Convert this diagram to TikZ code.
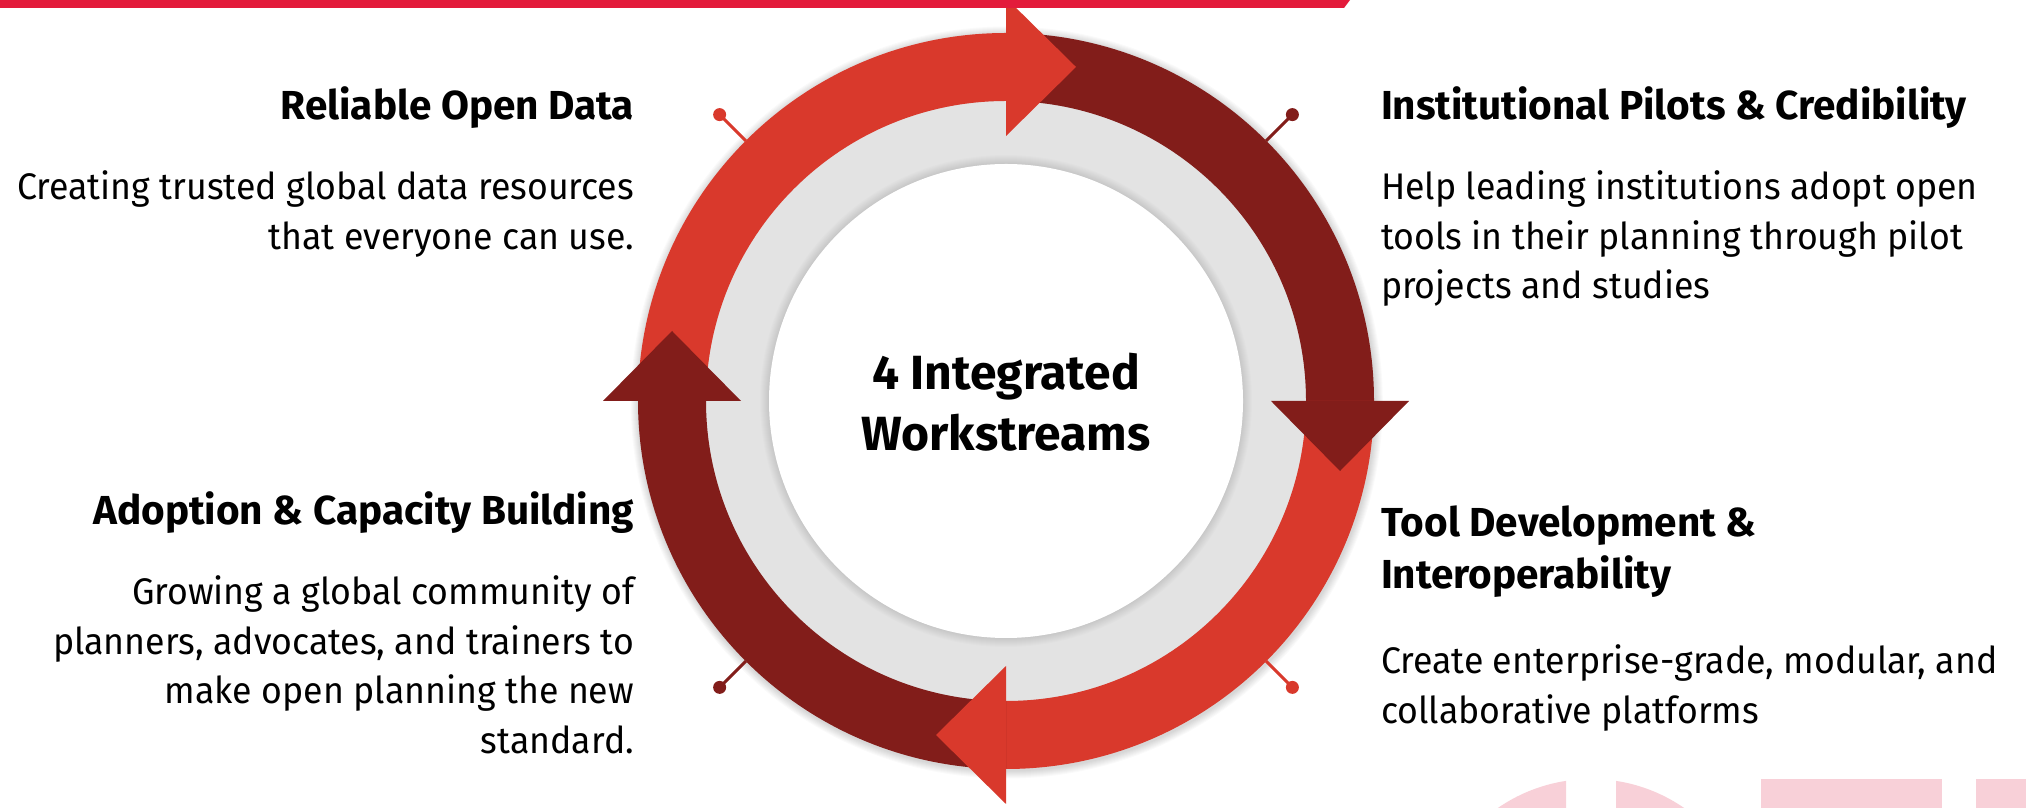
\documentclass[tikz,border=0pt]{standalone}
\usepackage{fontspec}
\setmainfont{Fira Sans}
\newfontfamily\bodyfont{Fira Sans}[FakeStretch=0.965]
\usetikzlibrary{calc}
\definecolor{bright}{HTML}{D9392C}
\definecolor{darkred}{HTML}{821D1A}
\definecolor{topbar}{HTML}{E31B3B}
\definecolor{pinkwm}{HTML}{F8D0D8}
\definecolor{ringgrey}{HTML}{E3E3E3}
\newcommand\rlines[1]{\begin{tabular}[t]{@{}r@{}}#1\end{tabular}}
\newcommand\llines[1]{\begin{tabular}[t]{@{}l@{}}#1\end{tabular}}
\newcommand\clines[1]{\begin{tabular}[t]{@{}c@{}}#1\end{tabular}}
\tikzset{
  bodytext/.style={font=\bodyfont\fontsize{37}{49.5}\selectfont, inner sep=0pt, outer sep=0pt},
  titletext/.style={font=\fontsize{40.5}{52}\selectfont\bfseries, inner sep=0pt, outer sep=0pt},
  centertext/.style={font=\fontsize{48}{61}\selectfont\bfseries, inner sep=0pt, outer sep=0pt},
  pinline/.style={line width=3pt},
}
\begin{document}
\begin{tikzpicture}[x=1pt,y=1pt]
\useasboundingbox (0,0) rectangle (2026,808);
\fill[white] (0,0) rectangle (2026,808);

% watermark letters
\begin{scope}
  \clip (1400,0) rectangle (1566,808);
  \fill[pinkwm] (1591,-135) circle (164);
\end{scope}
\begin{scope}
  \clip (1616,0) rectangle (1800,808);
  \fill[pinkwm] (1591,-135) circle (164);
\end{scope}
\fill[pinkwm] (1761,0) rectangle (1942,29);
\fill[pinkwm] (1976,0) rectangle (2026,29);

\coordinate (C) at (1006,407);
\begin{scope}[shift={(C)}]
  % soft shadow
  \foreach \r in {369,...,376} {\fill[black, opacity=0.018] (0.8,-1.5) circle (\r);}
  \fill[ringgrey] (0,0) circle (300);
  \foreach \r in {238,...,246} {\fill[black, opacity=0.012] (0,0) circle (\r);}
  \fill[white] (0,0) circle (237);
  % arcs
  \fill[bright] (180:368) arc[start angle=180, end angle=90, radius=368] -- (90:300) arc[start angle=90, end angle=180, radius=300] -- cycle;
  \fill[darkred] (90:368) arc[start angle=90, end angle=0, radius=368] -- (0:300) arc[start angle=0, end angle=90, radius=300] -- cycle;
  \fill[bright] (0:368) arc[start angle=0, end angle=-90, radius=368] -- (-90:300) arc[start angle=-90, end angle=0, radius=300] -- cycle;
  \fill[darkred] (270:368) arc[start angle=270, end angle=180, radius=368] -- (180:300) arc[start angle=180, end angle=270, radius=300] -- cycle;
  % arrow heads
  \fill[bright] (90:265) -- (90:403) -- ($(90:334)+(0:70)$) -- cycle;
  \fill[darkred] (0:265) -- (0:403) -- ($(0:334)+(-90:70)$) -- cycle;
  \fill[bright] (-90:265) -- (-90:403) -- ($(-90:334)+(180:70)$) -- cycle;
  \fill[darkred] (180:265) -- (180:403) -- ($(180:334)+(90:70)$) -- cycle;
  % pins
  \coordinate (p1a) at (135:368); \coordinate (p1b) at (135:405);
  \coordinate (p2a) at (45:368);  \coordinate (p2b) at (45:405);
  \coordinate (p3a) at (225:368); \coordinate (p3b) at (225:405);
  \coordinate (p4a) at (315:368); \coordinate (p4b) at (315:405);
  \draw[bright, pinline] (p1a) -- (p1b); \fill[bright] (p1b) circle (6.5);
  \draw[darkred, pinline] (p2a) -- (p2b); \fill[darkred] (p2b) circle (6.5);
  \draw[darkred, pinline] (p3a) -- (p3b); \fill[darkred] (p3b) circle (6.5);
  \draw[bright, pinline] (p4a) -- (p4b); \fill[bright] (p4b) circle (6.5);
\end{scope}

% center text
\node[centertext, anchor=base] (ctr) at (1006,418) {\clines{4 Integrated\\Workstreams}};

% left top
\node[titletext, anchor=base east] (t1) at (634,688) {Reliable Open Data};
\node[bodytext, anchor=base east] (b1) at (634,608) {\rlines{Creating trusted global data resources\\that everyone can use.}};
% right top
\node[titletext, anchor=base west] (t2) at (1381,688) {Institutional Pilots \& Credibility};
\node[bodytext, anchor=base west] (b2) at (1381,608) {\llines{Help leading institutions adopt open\\tools in their planning through pilot\\projects and studies}};
% right bottom
\node[titletext, anchor=base west] (t3) at (1381,271) {\llines{Tool Development \&\\Interoperability}};
\node[bodytext, anchor=base west] (b3) at (1381,134) {\llines{Create enterprise-grade, modular, and\\collaborative platforms}};
% left bottom
\node[titletext, anchor=base east] (t4) at (634,283) {Adoption \& Capacity Building};
\node[bodytext, anchor=base east] (b4) at (634,203) {\rlines{Growing a global community of\\planners, advocates, and trainers to\\make open planning the new\\standard.}};

% top bar
\fill[topbar] (0,808) -- (1350,808) -- (1344,800) -- (0,800) -- cycle;
\end{tikzpicture}
\end{document}
